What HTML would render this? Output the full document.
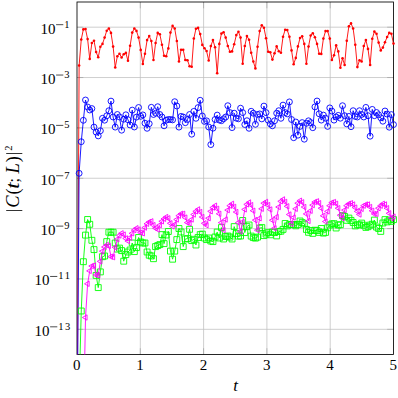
<!DOCTYPE html><html><head><meta charset="utf-8"><style>html,body{margin:0;padding:0;background:#fff}svg{display:block}text{font-family:"Liberation Serif",serif;fill:#000}</style></head><body>
<svg width="398" height="398" viewBox="0 0 398 398">
<rect width="398" height="398" fill="#fff"/>
<defs><clipPath id="c"><rect x="77.0" y="2.0" width="316.5" height="352.5"/></clipPath></defs>
<path d="M77.0 27.18H393.5M77.0 77.54H393.5M77.0 127.89H393.5M77.0 178.25H393.5M77.0 228.61H393.5M77.0 278.96H393.5M77.0 329.32H393.5M140.30 2.0V354.5M203.60 2.0V354.5M266.90 2.0V354.5M330.20 2.0V354.5" stroke="#bfbfbf" stroke-width="0.75" fill="none"/>
<path d="M77.0 27.18h6.3M393.5 27.18h-6.3M77.0 77.54h6.3M393.5 77.54h-6.3M77.0 127.89h6.3M393.5 127.89h-6.3M77.0 178.25h6.3M393.5 178.25h-6.3M77.0 228.61h6.3M393.5 228.61h-6.3M77.0 278.96h6.3M393.5 278.96h-6.3M77.0 329.32h6.3M393.5 329.32h-6.3M140.30 354.5v-6.3M140.30 2.0v6.3M203.60 354.5v-6.3M203.60 2.0v6.3M266.90 354.5v-6.3M266.90 2.0v6.3M330.20 354.5v-6.3M330.20 2.0v6.3" stroke="#808080" stroke-width="0.42" fill="none"/>
<rect x="77.0" y="2.0" width="316.5" height="352.5" fill="none" stroke="#000" stroke-width="0.85"/>
<g clip-path="url(#c)">
<polyline points="77.00,450.00 79.12,65.50 81.25,39.50 83.37,29.40 85.50,29.00 87.62,39.10 89.74,58.90 91.87,43.00 93.99,40.70 96.12,52.00 98.24,57.30 100.37,46.80 102.49,43.90 104.61,37.60 106.74,30.70 108.86,28.50 110.99,32.90 113.11,46.60 115.23,67.50 117.36,56.20 119.48,53.70 121.61,57.50 123.73,54.20 125.86,52.90 127.98,60.80 130.10,45.80 132.23,32.60 134.35,28.50 136.48,30.90 138.60,37.60 140.72,49.90 142.85,64.00 144.97,53.70 147.10,40.10 149.22,36.00 151.35,41.00 153.47,60.00 155.59,43.00 157.72,32.90 159.84,34.20 161.97,44.70 164.09,55.80 166.21,56.30 168.34,48.40 170.46,32.60 172.59,25.90 174.71,28.50 176.84,41.00 178.96,61.50 181.08,49.80 183.21,49.80 185.33,60.00 187.46,60.20 189.58,66.20 191.70,66.70 193.83,38.50 195.95,28.80 198.08,27.90 200.20,34.10 202.33,44.90 204.45,48.30 206.57,51.00 208.70,60.50 210.82,46.10 212.95,40.10 215.07,47.30 217.19,73.30 219.32,43.90 221.44,33.60 223.57,32.20 225.69,37.60 227.82,46.00 229.94,51.80 232.06,51.40 234.19,44.20 236.31,35.10 238.44,31.70 240.56,37.60 242.68,63.70 244.81,46.00 246.93,36.10 249.06,39.70 251.18,52.70 253.31,61.50 255.43,68.40 257.55,46.70 259.68,31.10 261.80,25.30 263.93,27.80 266.05,38.20 268.17,51.80 270.30,52.30 272.42,59.60 274.55,53.30 276.67,46.40 278.80,51.20 280.92,52.70 283.04,36.70 285.17,29.70 287.29,30.10 289.42,36.70 291.54,50.40 293.66,64.20 295.79,57.90 297.91,46.40 300.04,38.00 302.16,36.30 304.29,43.90 306.41,63.70 308.53,46.60 310.66,35.50 312.78,33.20 314.91,37.20 317.03,43.90 319.15,53.70 321.28,53.90 323.40,38.60 325.53,31.10 327.65,31.10 329.78,38.60 331.90,60.00 334.02,55.20 336.15,45.40 338.27,51.40 340.40,67.70 342.52,58.30 344.64,65.00 346.77,40.70 348.89,26.30 351.02,23.40 353.14,28.50 355.27,44.70 357.39,67.10 359.51,60.20 361.64,61.50 363.76,46.00 365.89,40.10 368.01,48.90 370.13,65.00 372.26,38.80 374.38,31.60 376.51,33.80 378.63,42.60 380.76,50.40 382.88,47.60 385.00,42.20 387.13,37.00 389.25,32.90 391.38,33.80 393.50,43.60" fill="none" stroke="#ff0000" stroke-width="0.9" stroke-linejoin="round"/>
</g><g fill="#ff0000"><circle cx="79.12" cy="65.50" r="1.3"/><circle cx="81.25" cy="39.50" r="1.3"/><circle cx="83.37" cy="29.40" r="1.3"/><circle cx="85.50" cy="29.00" r="1.3"/><circle cx="87.62" cy="39.10" r="1.3"/><circle cx="89.74" cy="58.90" r="1.3"/><circle cx="91.87" cy="43.00" r="1.3"/><circle cx="93.99" cy="40.70" r="1.3"/><circle cx="96.12" cy="52.00" r="1.3"/><circle cx="98.24" cy="57.30" r="1.3"/><circle cx="100.37" cy="46.80" r="1.3"/><circle cx="102.49" cy="43.90" r="1.3"/><circle cx="104.61" cy="37.60" r="1.3"/><circle cx="106.74" cy="30.70" r="1.3"/><circle cx="108.86" cy="28.50" r="1.3"/><circle cx="110.99" cy="32.90" r="1.3"/><circle cx="113.11" cy="46.60" r="1.3"/><circle cx="115.23" cy="67.50" r="1.3"/><circle cx="117.36" cy="56.20" r="1.3"/><circle cx="119.48" cy="53.70" r="1.3"/><circle cx="121.61" cy="57.50" r="1.3"/><circle cx="123.73" cy="54.20" r="1.3"/><circle cx="125.86" cy="52.90" r="1.3"/><circle cx="127.98" cy="60.80" r="1.3"/><circle cx="130.10" cy="45.80" r="1.3"/><circle cx="132.23" cy="32.60" r="1.3"/><circle cx="134.35" cy="28.50" r="1.3"/><circle cx="136.48" cy="30.90" r="1.3"/><circle cx="138.60" cy="37.60" r="1.3"/><circle cx="140.72" cy="49.90" r="1.3"/><circle cx="142.85" cy="64.00" r="1.3"/><circle cx="144.97" cy="53.70" r="1.3"/><circle cx="147.10" cy="40.10" r="1.3"/><circle cx="149.22" cy="36.00" r="1.3"/><circle cx="151.35" cy="41.00" r="1.3"/><circle cx="153.47" cy="60.00" r="1.3"/><circle cx="155.59" cy="43.00" r="1.3"/><circle cx="157.72" cy="32.90" r="1.3"/><circle cx="159.84" cy="34.20" r="1.3"/><circle cx="161.97" cy="44.70" r="1.3"/><circle cx="164.09" cy="55.80" r="1.3"/><circle cx="166.21" cy="56.30" r="1.3"/><circle cx="168.34" cy="48.40" r="1.3"/><circle cx="170.46" cy="32.60" r="1.3"/><circle cx="172.59" cy="25.90" r="1.3"/><circle cx="174.71" cy="28.50" r="1.3"/><circle cx="176.84" cy="41.00" r="1.3"/><circle cx="178.96" cy="61.50" r="1.3"/><circle cx="181.08" cy="49.80" r="1.3"/><circle cx="183.21" cy="49.80" r="1.3"/><circle cx="185.33" cy="60.00" r="1.3"/><circle cx="187.46" cy="60.20" r="1.3"/><circle cx="189.58" cy="66.20" r="1.3"/><circle cx="191.70" cy="66.70" r="1.3"/><circle cx="193.83" cy="38.50" r="1.3"/><circle cx="195.95" cy="28.80" r="1.3"/><circle cx="198.08" cy="27.90" r="1.3"/><circle cx="200.20" cy="34.10" r="1.3"/><circle cx="202.33" cy="44.90" r="1.3"/><circle cx="204.45" cy="48.30" r="1.3"/><circle cx="206.57" cy="51.00" r="1.3"/><circle cx="208.70" cy="60.50" r="1.3"/><circle cx="210.82" cy="46.10" r="1.3"/><circle cx="212.95" cy="40.10" r="1.3"/><circle cx="215.07" cy="47.30" r="1.3"/><circle cx="217.19" cy="73.30" r="1.3"/><circle cx="219.32" cy="43.90" r="1.3"/><circle cx="221.44" cy="33.60" r="1.3"/><circle cx="223.57" cy="32.20" r="1.3"/><circle cx="225.69" cy="37.60" r="1.3"/><circle cx="227.82" cy="46.00" r="1.3"/><circle cx="229.94" cy="51.80" r="1.3"/><circle cx="232.06" cy="51.40" r="1.3"/><circle cx="234.19" cy="44.20" r="1.3"/><circle cx="236.31" cy="35.10" r="1.3"/><circle cx="238.44" cy="31.70" r="1.3"/><circle cx="240.56" cy="37.60" r="1.3"/><circle cx="242.68" cy="63.70" r="1.3"/><circle cx="244.81" cy="46.00" r="1.3"/><circle cx="246.93" cy="36.10" r="1.3"/><circle cx="249.06" cy="39.70" r="1.3"/><circle cx="251.18" cy="52.70" r="1.3"/><circle cx="253.31" cy="61.50" r="1.3"/><circle cx="255.43" cy="68.40" r="1.3"/><circle cx="257.55" cy="46.70" r="1.3"/><circle cx="259.68" cy="31.10" r="1.3"/><circle cx="261.80" cy="25.30" r="1.3"/><circle cx="263.93" cy="27.80" r="1.3"/><circle cx="266.05" cy="38.20" r="1.3"/><circle cx="268.17" cy="51.80" r="1.3"/><circle cx="270.30" cy="52.30" r="1.3"/><circle cx="272.42" cy="59.60" r="1.3"/><circle cx="274.55" cy="53.30" r="1.3"/><circle cx="276.67" cy="46.40" r="1.3"/><circle cx="278.80" cy="51.20" r="1.3"/><circle cx="280.92" cy="52.70" r="1.3"/><circle cx="283.04" cy="36.70" r="1.3"/><circle cx="285.17" cy="29.70" r="1.3"/><circle cx="287.29" cy="30.10" r="1.3"/><circle cx="289.42" cy="36.70" r="1.3"/><circle cx="291.54" cy="50.40" r="1.3"/><circle cx="293.66" cy="64.20" r="1.3"/><circle cx="295.79" cy="57.90" r="1.3"/><circle cx="297.91" cy="46.40" r="1.3"/><circle cx="300.04" cy="38.00" r="1.3"/><circle cx="302.16" cy="36.30" r="1.3"/><circle cx="304.29" cy="43.90" r="1.3"/><circle cx="306.41" cy="63.70" r="1.3"/><circle cx="308.53" cy="46.60" r="1.3"/><circle cx="310.66" cy="35.50" r="1.3"/><circle cx="312.78" cy="33.20" r="1.3"/><circle cx="314.91" cy="37.20" r="1.3"/><circle cx="317.03" cy="43.90" r="1.3"/><circle cx="319.15" cy="53.70" r="1.3"/><circle cx="321.28" cy="53.90" r="1.3"/><circle cx="323.40" cy="38.60" r="1.3"/><circle cx="325.53" cy="31.10" r="1.3"/><circle cx="327.65" cy="31.10" r="1.3"/><circle cx="329.78" cy="38.60" r="1.3"/><circle cx="331.90" cy="60.00" r="1.3"/><circle cx="334.02" cy="55.20" r="1.3"/><circle cx="336.15" cy="45.40" r="1.3"/><circle cx="338.27" cy="51.40" r="1.3"/><circle cx="340.40" cy="67.70" r="1.3"/><circle cx="342.52" cy="58.30" r="1.3"/><circle cx="344.64" cy="65.00" r="1.3"/><circle cx="346.77" cy="40.70" r="1.3"/><circle cx="348.89" cy="26.30" r="1.3"/><circle cx="351.02" cy="23.40" r="1.3"/><circle cx="353.14" cy="28.50" r="1.3"/><circle cx="355.27" cy="44.70" r="1.3"/><circle cx="357.39" cy="67.10" r="1.3"/><circle cx="359.51" cy="60.20" r="1.3"/><circle cx="361.64" cy="61.50" r="1.3"/><circle cx="363.76" cy="46.00" r="1.3"/><circle cx="365.89" cy="40.10" r="1.3"/><circle cx="368.01" cy="48.90" r="1.3"/><circle cx="370.13" cy="65.00" r="1.3"/><circle cx="372.26" cy="38.80" r="1.3"/><circle cx="374.38" cy="31.60" r="1.3"/><circle cx="376.51" cy="33.80" r="1.3"/><circle cx="378.63" cy="42.60" r="1.3"/><circle cx="380.76" cy="50.40" r="1.3"/><circle cx="382.88" cy="47.60" r="1.3"/><circle cx="385.00" cy="42.20" r="1.3"/><circle cx="387.13" cy="37.00" r="1.3"/><circle cx="389.25" cy="32.90" r="1.3"/><circle cx="391.38" cy="33.80" r="1.3"/><circle cx="393.50" cy="43.60" r="1.3"/></g><g clip-path="url(#c)">
<polyline points="77.00,450.00 79.12,173.30 81.25,141.70 83.37,120.30 85.50,100.00 87.62,107.00 89.74,110.00 91.87,108.60 93.99,127.10 96.12,132.10 98.24,135.90 100.37,130.80 102.49,118.30 104.61,120.20 106.74,115.80 108.86,110.70 110.99,101.10 113.11,117.00 115.23,127.10 117.36,114.50 119.48,117.00 121.61,130.20 123.73,119.20 125.86,114.80 127.98,119.70 130.10,125.00 132.23,110.10 134.35,127.00 136.48,117.10 138.60,107.50 140.72,116.30 142.85,114.90 144.97,123.20 147.10,128.30 149.22,123.70 151.35,107.30 153.47,114.50 155.59,113.20 157.72,106.70 159.84,114.50 161.97,117.00 164.09,125.80 166.21,120.20 168.34,119.50 170.46,119.50 172.59,119.90 174.71,101.70 176.84,106.00 178.96,127.10 181.08,116.40 183.21,117.00 185.33,122.70 187.46,119.50 189.58,114.50 191.70,134.20 193.83,111.40 195.95,118.30 198.08,107.60 200.20,100.30 202.33,116.00 204.45,121.40 206.57,120.80 208.70,127.00 210.82,144.60 212.95,128.20 215.07,119.50 217.19,115.10 219.32,120.10 221.44,120.70 223.57,118.80 225.69,117.00 227.82,105.70 229.94,112.60 232.06,127.60 234.19,113.20 236.31,118.20 238.44,118.80 240.56,108.20 242.68,112.60 244.81,124.50 246.93,120.70 249.06,128.30 251.18,111.30 253.31,113.20 255.43,124.30 257.55,114.50 259.68,113.90 261.80,118.90 263.93,106.10 266.05,112.60 268.17,120.20 270.30,123.90 272.42,125.80 274.55,120.80 276.67,113.20 278.80,110.70 280.92,118.30 283.04,105.10 285.17,112.60 287.29,113.90 289.42,101.90 291.54,119.50 293.66,137.70 295.79,122.00 297.91,135.20 300.04,126.40 302.16,122.60 304.29,139.20 306.41,123.30 308.53,120.80 310.66,122.60 312.78,127.70 314.91,106.90 317.03,101.00 319.15,113.80 321.28,120.10 323.40,115.10 325.53,118.20 327.65,126.40 329.78,107.90 331.90,111.10 334.02,120.10 336.15,117.00 338.27,115.40 340.40,118.20 342.52,105.70 344.64,115.70 346.77,123.90 348.89,116.40 351.02,126.70 353.14,110.70 355.27,116.40 357.39,117.00 359.51,110.70 361.64,114.50 363.76,117.00 365.89,107.40 368.01,115.70 370.13,136.20 372.26,109.40 374.38,115.70 376.51,112.50 378.63,114.80 380.76,117.80 382.88,121.20 385.00,111.00 387.13,114.10 389.25,127.20 391.38,114.60 393.50,124.60" fill="none" stroke="#0000ff" stroke-width="0.9" stroke-linejoin="round"/>
</g><g fill="none" stroke="#0000ff" stroke-width="0.9"><circle cx="79.12" cy="173.30" r="2.95"/><circle cx="81.25" cy="141.70" r="2.95"/><circle cx="83.37" cy="120.30" r="2.95"/><circle cx="85.50" cy="100.00" r="2.95"/><circle cx="87.62" cy="107.00" r="2.95"/><circle cx="89.74" cy="110.00" r="2.95"/><circle cx="91.87" cy="108.60" r="2.95"/><circle cx="93.99" cy="127.10" r="2.95"/><circle cx="96.12" cy="132.10" r="2.95"/><circle cx="98.24" cy="135.90" r="2.95"/><circle cx="100.37" cy="130.80" r="2.95"/><circle cx="102.49" cy="118.30" r="2.95"/><circle cx="104.61" cy="120.20" r="2.95"/><circle cx="106.74" cy="115.80" r="2.95"/><circle cx="108.86" cy="110.70" r="2.95"/><circle cx="110.99" cy="101.10" r="2.95"/><circle cx="113.11" cy="117.00" r="2.95"/><circle cx="115.23" cy="127.10" r="2.95"/><circle cx="117.36" cy="114.50" r="2.95"/><circle cx="119.48" cy="117.00" r="2.95"/><circle cx="121.61" cy="130.20" r="2.95"/><circle cx="123.73" cy="119.20" r="2.95"/><circle cx="125.86" cy="114.80" r="2.95"/><circle cx="127.98" cy="119.70" r="2.95"/><circle cx="130.10" cy="125.00" r="2.95"/><circle cx="132.23" cy="110.10" r="2.95"/><circle cx="134.35" cy="127.00" r="2.95"/><circle cx="136.48" cy="117.10" r="2.95"/><circle cx="138.60" cy="107.50" r="2.95"/><circle cx="140.72" cy="116.30" r="2.95"/><circle cx="142.85" cy="114.90" r="2.95"/><circle cx="144.97" cy="123.20" r="2.95"/><circle cx="147.10" cy="128.30" r="2.95"/><circle cx="149.22" cy="123.70" r="2.95"/><circle cx="151.35" cy="107.30" r="2.95"/><circle cx="153.47" cy="114.50" r="2.95"/><circle cx="155.59" cy="113.20" r="2.95"/><circle cx="157.72" cy="106.70" r="2.95"/><circle cx="159.84" cy="114.50" r="2.95"/><circle cx="161.97" cy="117.00" r="2.95"/><circle cx="164.09" cy="125.80" r="2.95"/><circle cx="166.21" cy="120.20" r="2.95"/><circle cx="168.34" cy="119.50" r="2.95"/><circle cx="170.46" cy="119.50" r="2.95"/><circle cx="172.59" cy="119.90" r="2.95"/><circle cx="174.71" cy="101.70" r="2.95"/><circle cx="176.84" cy="106.00" r="2.95"/><circle cx="178.96" cy="127.10" r="2.95"/><circle cx="181.08" cy="116.40" r="2.95"/><circle cx="183.21" cy="117.00" r="2.95"/><circle cx="185.33" cy="122.70" r="2.95"/><circle cx="187.46" cy="119.50" r="2.95"/><circle cx="189.58" cy="114.50" r="2.95"/><circle cx="191.70" cy="134.20" r="2.95"/><circle cx="193.83" cy="111.40" r="2.95"/><circle cx="195.95" cy="118.30" r="2.95"/><circle cx="198.08" cy="107.60" r="2.95"/><circle cx="200.20" cy="100.30" r="2.95"/><circle cx="202.33" cy="116.00" r="2.95"/><circle cx="204.45" cy="121.40" r="2.95"/><circle cx="206.57" cy="120.80" r="2.95"/><circle cx="208.70" cy="127.00" r="2.95"/><circle cx="210.82" cy="144.60" r="2.95"/><circle cx="212.95" cy="128.20" r="2.95"/><circle cx="215.07" cy="119.50" r="2.95"/><circle cx="217.19" cy="115.10" r="2.95"/><circle cx="219.32" cy="120.10" r="2.95"/><circle cx="221.44" cy="120.70" r="2.95"/><circle cx="223.57" cy="118.80" r="2.95"/><circle cx="225.69" cy="117.00" r="2.95"/><circle cx="227.82" cy="105.70" r="2.95"/><circle cx="229.94" cy="112.60" r="2.95"/><circle cx="232.06" cy="127.60" r="2.95"/><circle cx="234.19" cy="113.20" r="2.95"/><circle cx="236.31" cy="118.20" r="2.95"/><circle cx="238.44" cy="118.80" r="2.95"/><circle cx="240.56" cy="108.20" r="2.95"/><circle cx="242.68" cy="112.60" r="2.95"/><circle cx="244.81" cy="124.50" r="2.95"/><circle cx="246.93" cy="120.70" r="2.95"/><circle cx="249.06" cy="128.30" r="2.95"/><circle cx="251.18" cy="111.30" r="2.95"/><circle cx="253.31" cy="113.20" r="2.95"/><circle cx="255.43" cy="124.30" r="2.95"/><circle cx="257.55" cy="114.50" r="2.95"/><circle cx="259.68" cy="113.90" r="2.95"/><circle cx="261.80" cy="118.90" r="2.95"/><circle cx="263.93" cy="106.10" r="2.95"/><circle cx="266.05" cy="112.60" r="2.95"/><circle cx="268.17" cy="120.20" r="2.95"/><circle cx="270.30" cy="123.90" r="2.95"/><circle cx="272.42" cy="125.80" r="2.95"/><circle cx="274.55" cy="120.80" r="2.95"/><circle cx="276.67" cy="113.20" r="2.95"/><circle cx="278.80" cy="110.70" r="2.95"/><circle cx="280.92" cy="118.30" r="2.95"/><circle cx="283.04" cy="105.10" r="2.95"/><circle cx="285.17" cy="112.60" r="2.95"/><circle cx="287.29" cy="113.90" r="2.95"/><circle cx="289.42" cy="101.90" r="2.95"/><circle cx="291.54" cy="119.50" r="2.95"/><circle cx="293.66" cy="137.70" r="2.95"/><circle cx="295.79" cy="122.00" r="2.95"/><circle cx="297.91" cy="135.20" r="2.95"/><circle cx="300.04" cy="126.40" r="2.95"/><circle cx="302.16" cy="122.60" r="2.95"/><circle cx="304.29" cy="139.20" r="2.95"/><circle cx="306.41" cy="123.30" r="2.95"/><circle cx="308.53" cy="120.80" r="2.95"/><circle cx="310.66" cy="122.60" r="2.95"/><circle cx="312.78" cy="127.70" r="2.95"/><circle cx="314.91" cy="106.90" r="2.95"/><circle cx="317.03" cy="101.00" r="2.95"/><circle cx="319.15" cy="113.80" r="2.95"/><circle cx="321.28" cy="120.10" r="2.95"/><circle cx="323.40" cy="115.10" r="2.95"/><circle cx="325.53" cy="118.20" r="2.95"/><circle cx="327.65" cy="126.40" r="2.95"/><circle cx="329.78" cy="107.90" r="2.95"/><circle cx="331.90" cy="111.10" r="2.95"/><circle cx="334.02" cy="120.10" r="2.95"/><circle cx="336.15" cy="117.00" r="2.95"/><circle cx="338.27" cy="115.40" r="2.95"/><circle cx="340.40" cy="118.20" r="2.95"/><circle cx="342.52" cy="105.70" r="2.95"/><circle cx="344.64" cy="115.70" r="2.95"/><circle cx="346.77" cy="123.90" r="2.95"/><circle cx="348.89" cy="116.40" r="2.95"/><circle cx="351.02" cy="126.70" r="2.95"/><circle cx="353.14" cy="110.70" r="2.95"/><circle cx="355.27" cy="116.40" r="2.95"/><circle cx="357.39" cy="117.00" r="2.95"/><circle cx="359.51" cy="110.70" r="2.95"/><circle cx="361.64" cy="114.50" r="2.95"/><circle cx="363.76" cy="117.00" r="2.95"/><circle cx="365.89" cy="107.40" r="2.95"/><circle cx="368.01" cy="115.70" r="2.95"/><circle cx="370.13" cy="136.20" r="2.95"/><circle cx="372.26" cy="109.40" r="2.95"/><circle cx="374.38" cy="115.70" r="2.95"/><circle cx="376.51" cy="112.50" r="2.95"/><circle cx="378.63" cy="114.80" r="2.95"/><circle cx="380.76" cy="117.80" r="2.95"/><circle cx="382.88" cy="121.20" r="2.95"/><circle cx="385.00" cy="111.00" r="2.95"/><circle cx="387.13" cy="114.10" r="2.95"/><circle cx="389.25" cy="127.20" r="2.95"/><circle cx="391.38" cy="114.60" r="2.95"/><circle cx="393.50" cy="124.60" r="2.95"/></g><g clip-path="url(#c)">
<polyline points="77.00,600.00 79.12,391.00 81.25,311.00 83.37,261.70 85.50,235.10 87.62,219.50 89.74,224.30 91.87,240.30 93.99,249.60 96.12,275.40 98.24,287.60 100.37,271.90 102.49,256.70 104.61,256.00 106.74,241.60 108.86,232.20 110.99,232.20 113.11,232.20 115.23,243.00 117.36,249.10 119.48,248.10 121.61,250.60 123.73,261.20 125.86,254.60 127.98,252.00 130.10,250.00 132.23,243.00 134.35,251.60 136.48,247.60 138.60,237.50 140.72,242.00 142.85,243.00 144.97,243.00 147.10,252.00 149.22,255.20 151.35,256.00 153.47,258.70 155.59,246.60 157.72,245.60 159.84,244.60 161.97,234.60 164.09,243.60 166.21,235.00 168.34,231.50 170.46,251.10 172.59,259.20 174.71,251.10 176.84,239.60 178.96,228.50 181.08,232.00 183.21,246.60 185.33,239.00 187.46,238.60 189.58,229.30 191.70,240.60 193.83,239.30 195.95,245.00 198.08,237.50 200.20,234.60 202.33,234.10 204.45,238.00 206.57,239.60 208.70,238.00 210.82,241.00 212.95,241.60 215.07,237.00 217.19,232.10 219.32,238.00 221.44,227.60 223.57,239.00 225.69,236.60 227.82,236.00 229.94,237.10 232.06,239.00 234.19,226.60 236.31,233.60 238.44,236.10 240.56,236.00 242.68,220.50 244.81,232.60 246.93,226.60 249.06,225.00 251.18,236.10 253.31,237.60 255.43,238.10 257.55,237.10 259.68,228.10 261.80,227.60 263.93,235.60 266.05,234.10 268.17,232.60 270.30,234.80 272.42,232.00 274.55,232.50 276.67,235.90 278.80,231.50 280.92,231.20 283.04,229.40 285.17,223.50 287.29,225.90 289.42,224.60 291.54,224.50 293.66,224.50 295.79,225.80 297.91,224.50 300.04,221.00 302.16,222.60 304.29,224.00 306.41,229.40 308.53,232.30 310.66,230.50 312.78,233.40 314.91,230.20 317.03,230.60 319.15,232.40 321.28,228.50 323.40,233.10 325.53,232.40 327.65,227.80 329.78,225.00 331.90,223.90 334.02,223.70 336.15,228.00 338.27,225.10 340.40,224.70 342.52,215.60 344.64,216.50 346.77,220.30 348.89,218.10 351.02,220.40 353.14,222.50 355.27,225.90 357.39,224.70 359.51,224.90 361.64,223.10 363.76,225.20 365.89,227.40 368.01,226.70 370.13,225.10 372.26,224.20 374.38,220.10 376.51,227.10 378.63,228.50 380.76,231.40 382.88,223.00 385.00,219.60 387.13,221.90 389.25,220.00 391.38,221.40 393.50,219.60" fill="none" stroke="#00ff00" stroke-width="0.9" stroke-linejoin="round"/>
</g><path d="M78.30 308.05h5.9v5.9h-5.9zM80.42 258.75h5.9v5.9h-5.9zM82.55 232.15h5.9v5.9h-5.9zM84.67 216.55h5.9v5.9h-5.9zM86.79 221.35h5.9v5.9h-5.9zM88.92 237.35h5.9v5.9h-5.9zM91.04 246.65h5.9v5.9h-5.9zM93.17 272.45h5.9v5.9h-5.9zM95.29 284.65h5.9v5.9h-5.9zM97.42 268.95h5.9v5.9h-5.9zM99.54 253.75h5.9v5.9h-5.9zM101.66 253.05h5.9v5.9h-5.9zM103.79 238.65h5.9v5.9h-5.9zM105.91 229.25h5.9v5.9h-5.9zM108.04 229.25h5.9v5.9h-5.9zM110.16 229.25h5.9v5.9h-5.9zM112.28 240.05h5.9v5.9h-5.9zM114.41 246.15h5.9v5.9h-5.9zM116.53 245.15h5.9v5.9h-5.9zM118.66 247.65h5.9v5.9h-5.9zM120.78 258.25h5.9v5.9h-5.9zM122.91 251.65h5.9v5.9h-5.9zM125.03 249.05h5.9v5.9h-5.9zM127.15 247.05h5.9v5.9h-5.9zM129.28 240.05h5.9v5.9h-5.9zM131.40 248.65h5.9v5.9h-5.9zM133.53 244.65h5.9v5.9h-5.9zM135.65 234.55h5.9v5.9h-5.9zM137.77 239.05h5.9v5.9h-5.9zM139.90 240.05h5.9v5.9h-5.9zM142.02 240.05h5.9v5.9h-5.9zM144.15 249.05h5.9v5.9h-5.9zM146.27 252.25h5.9v5.9h-5.9zM148.40 253.05h5.9v5.9h-5.9zM150.52 255.75h5.9v5.9h-5.9zM152.64 243.65h5.9v5.9h-5.9zM154.77 242.65h5.9v5.9h-5.9zM156.89 241.65h5.9v5.9h-5.9zM159.02 231.65h5.9v5.9h-5.9zM161.14 240.65h5.9v5.9h-5.9zM163.26 232.05h5.9v5.9h-5.9zM165.39 228.55h5.9v5.9h-5.9zM167.51 248.15h5.9v5.9h-5.9zM169.64 256.25h5.9v5.9h-5.9zM171.76 248.15h5.9v5.9h-5.9zM173.89 236.65h5.9v5.9h-5.9zM176.01 225.55h5.9v5.9h-5.9zM178.13 229.05h5.9v5.9h-5.9zM180.26 243.65h5.9v5.9h-5.9zM182.38 236.05h5.9v5.9h-5.9zM184.51 235.65h5.9v5.9h-5.9zM186.63 226.35h5.9v5.9h-5.9zM188.75 237.65h5.9v5.9h-5.9zM190.88 236.35h5.9v5.9h-5.9zM193.00 242.05h5.9v5.9h-5.9zM195.13 234.55h5.9v5.9h-5.9zM197.25 231.65h5.9v5.9h-5.9zM199.38 231.15h5.9v5.9h-5.9zM201.50 235.05h5.9v5.9h-5.9zM203.62 236.65h5.9v5.9h-5.9zM205.75 235.05h5.9v5.9h-5.9zM207.87 238.05h5.9v5.9h-5.9zM210.00 238.65h5.9v5.9h-5.9zM212.12 234.05h5.9v5.9h-5.9zM214.24 229.15h5.9v5.9h-5.9zM216.37 235.05h5.9v5.9h-5.9zM218.49 224.65h5.9v5.9h-5.9zM220.62 236.05h5.9v5.9h-5.9zM222.74 233.65h5.9v5.9h-5.9zM224.87 233.05h5.9v5.9h-5.9zM226.99 234.15h5.9v5.9h-5.9zM229.11 236.05h5.9v5.9h-5.9zM231.24 223.65h5.9v5.9h-5.9zM233.36 230.65h5.9v5.9h-5.9zM235.49 233.15h5.9v5.9h-5.9zM237.61 233.05h5.9v5.9h-5.9zM239.73 217.55h5.9v5.9h-5.9zM241.86 229.65h5.9v5.9h-5.9zM243.98 223.65h5.9v5.9h-5.9zM246.11 222.05h5.9v5.9h-5.9zM248.23 233.15h5.9v5.9h-5.9zM250.36 234.65h5.9v5.9h-5.9zM252.48 235.15h5.9v5.9h-5.9zM254.60 234.15h5.9v5.9h-5.9zM256.73 225.15h5.9v5.9h-5.9zM258.85 224.65h5.9v5.9h-5.9zM260.98 232.65h5.9v5.9h-5.9zM263.10 231.15h5.9v5.9h-5.9zM265.22 229.65h5.9v5.9h-5.9zM267.35 231.85h5.9v5.9h-5.9zM269.47 229.05h5.9v5.9h-5.9zM271.60 229.55h5.9v5.9h-5.9zM273.72 232.95h5.9v5.9h-5.9zM275.85 228.55h5.9v5.9h-5.9zM277.97 228.25h5.9v5.9h-5.9zM280.09 226.45h5.9v5.9h-5.9zM282.22 220.55h5.9v5.9h-5.9zM284.34 222.95h5.9v5.9h-5.9zM286.47 221.65h5.9v5.9h-5.9zM288.59 221.55h5.9v5.9h-5.9zM290.71 221.55h5.9v5.9h-5.9zM292.84 222.85h5.9v5.9h-5.9zM294.96 221.55h5.9v5.9h-5.9zM297.09 218.05h5.9v5.9h-5.9zM299.21 219.65h5.9v5.9h-5.9zM301.34 221.05h5.9v5.9h-5.9zM303.46 226.45h5.9v5.9h-5.9zM305.58 229.35h5.9v5.9h-5.9zM307.71 227.55h5.9v5.9h-5.9zM309.83 230.45h5.9v5.9h-5.9zM311.96 227.25h5.9v5.9h-5.9zM314.08 227.65h5.9v5.9h-5.9zM316.20 229.45h5.9v5.9h-5.9zM318.33 225.55h5.9v5.9h-5.9zM320.45 230.15h5.9v5.9h-5.9zM322.58 229.45h5.9v5.9h-5.9zM324.70 224.85h5.9v5.9h-5.9zM326.83 222.05h5.9v5.9h-5.9zM328.95 220.95h5.9v5.9h-5.9zM331.07 220.75h5.9v5.9h-5.9zM333.20 225.05h5.9v5.9h-5.9zM335.32 222.15h5.9v5.9h-5.9zM337.45 221.75h5.9v5.9h-5.9zM339.57 212.65h5.9v5.9h-5.9zM341.69 213.55h5.9v5.9h-5.9zM343.82 217.35h5.9v5.9h-5.9zM345.94 215.15h5.9v5.9h-5.9zM348.07 217.45h5.9v5.9h-5.9zM350.19 219.55h5.9v5.9h-5.9zM352.32 222.95h5.9v5.9h-5.9zM354.44 221.75h5.9v5.9h-5.9zM356.56 221.95h5.9v5.9h-5.9zM358.69 220.15h5.9v5.9h-5.9zM360.81 222.25h5.9v5.9h-5.9zM362.94 224.45h5.9v5.9h-5.9zM365.06 223.75h5.9v5.9h-5.9zM367.18 222.15h5.9v5.9h-5.9zM369.31 221.25h5.9v5.9h-5.9zM371.43 217.15h5.9v5.9h-5.9zM373.56 224.15h5.9v5.9h-5.9zM375.68 225.55h5.9v5.9h-5.9zM377.81 228.45h5.9v5.9h-5.9zM379.93 220.05h5.9v5.9h-5.9zM382.05 216.65h5.9v5.9h-5.9zM384.18 218.95h5.9v5.9h-5.9zM386.30 217.05h5.9v5.9h-5.9zM388.43 218.45h5.9v5.9h-5.9zM390.55 216.65h5.9v5.9h-5.9z" fill="none" stroke="#00ff00" stroke-width="0.9"/><g clip-path="url(#c)">
<polyline points="81.25,900.00 83.37,429.00 85.50,317.50 87.62,283.80 89.74,270.90 91.87,266.00 93.99,265.50 96.12,275.00 98.24,275.50 100.37,261.40 102.49,251.20 104.61,247.00 106.74,245.00 108.86,246.00 110.99,256.70 113.11,257.20 115.23,247.30 117.36,239.30 119.48,235.50 121.61,233.30 123.73,234.60 125.86,238.40 127.98,241.00 130.10,237.70 132.23,233.30 134.35,230.10 136.48,228.20 138.60,229.50 140.72,232.60 142.85,233.30 144.97,227.60 147.10,223.80 149.22,222.00 151.35,221.30 153.47,225.10 155.59,228.20 157.72,229.50 159.84,225.10 161.97,221.30 164.09,218.80 166.21,217.00 168.34,218.30 170.46,223.30 172.59,226.40 174.71,224.50 176.84,219.50 178.96,215.70 181.08,213.80 183.21,213.80 185.33,217.60 187.46,222.60 189.58,223.30 191.70,219.50 193.83,214.50 195.95,211.30 198.08,209.40 200.20,212.00 202.33,217.00 204.45,223.30 206.57,225.20 208.70,218.20 210.82,211.30 212.95,207.60 215.07,205.70 217.19,208.80 219.32,213.80 221.44,222.60 223.57,230.10 225.69,219.50 227.82,210.10 229.94,205.70 232.06,203.80 234.19,206.90 236.31,212.00 238.44,222.60 240.56,231.40 242.68,222.00 244.81,209.40 246.93,204.40 249.06,202.50 251.18,205.10 253.31,210.70 255.43,220.10 257.55,230.20 259.68,218.30 261.80,208.80 263.93,203.20 266.05,201.90 268.17,205.10 270.30,209.50 272.42,220.20 274.55,228.30 276.67,217.00 278.80,207.00 280.92,201.30 283.04,199.40 285.17,201.90 287.29,206.30 289.42,214.50 291.54,223.90 293.66,217.60 295.79,208.80 297.91,203.20 300.04,200.70 302.16,202.30 304.29,207.00 306.41,213.90 308.53,221.00 310.66,210.80 312.78,205.10 314.91,202.00 317.03,201.30 319.15,203.20 321.28,208.20 323.40,215.80 325.53,221.50 327.65,211.40 329.78,205.70 331.90,202.60 334.02,202.00 336.15,203.80 338.27,208.20 340.40,215.20 342.52,218.30 344.64,210.10 346.77,205.70 348.89,203.80 351.02,203.20 353.14,204.50 355.27,207.60 357.39,211.40 359.51,214.50 361.64,208.90 363.76,205.70 365.89,204.50 368.01,204.50 370.13,207.00 372.26,210.80 374.38,213.90 376.51,213.90 378.63,208.20 380.76,205.70 382.88,203.80 385.00,204.50 387.13,208.20 389.25,213.30 391.38,218.10 393.50,216.60" fill="none" stroke="#ff00ff" stroke-width="0.9" stroke-linejoin="round"/>
</g><path d="M82.40 317.50L87.05 314.82L87.05 320.18zM84.52 283.80L89.17 281.12L89.17 286.48zM86.64 270.90L91.29 268.22L91.29 273.58zM88.77 266.00L93.42 263.32L93.42 268.68zM90.89 265.50L95.54 262.82L95.54 268.18zM93.02 275.00L97.67 272.32L97.67 277.68zM95.14 275.50L99.79 272.82L99.79 278.18zM97.27 261.40L101.92 258.72L101.92 264.08zM99.39 251.20L104.04 248.52L104.04 253.88zM101.51 247.00L106.16 244.32L106.16 249.68zM103.64 245.00L108.29 242.32L108.29 247.68zM105.76 246.00L110.41 243.32L110.41 248.68zM107.89 256.70L112.54 254.02L112.54 259.38zM110.01 257.20L114.66 254.52L114.66 259.88zM112.13 247.30L116.78 244.62L116.78 249.98zM114.26 239.30L118.91 236.62L118.91 241.98zM116.38 235.50L121.03 232.82L121.03 238.18zM118.51 233.30L123.16 230.62L123.16 235.98zM120.63 234.60L125.28 231.92L125.28 237.28zM122.76 238.40L127.41 235.72L127.41 241.08zM124.88 241.00L129.53 238.32L129.53 243.68zM127.00 237.70L131.65 235.02L131.65 240.38zM129.13 233.30L133.78 230.62L133.78 235.98zM131.25 230.10L135.90 227.42L135.90 232.78zM133.38 228.20L138.03 225.52L138.03 230.88zM135.50 229.50L140.15 226.82L140.15 232.18zM137.62 232.60L142.27 229.92L142.27 235.28zM139.75 233.30L144.40 230.62L144.40 235.98zM141.87 227.60L146.52 224.92L146.52 230.28zM144.00 223.80L148.65 221.12L148.65 226.48zM146.12 222.00L150.77 219.32L150.77 224.68zM148.25 221.30L152.90 218.62L152.90 223.98zM150.37 225.10L155.02 222.42L155.02 227.78zM152.49 228.20L157.14 225.52L157.14 230.88zM154.62 229.50L159.27 226.82L159.27 232.18zM156.74 225.10L161.39 222.42L161.39 227.78zM158.87 221.30L163.52 218.62L163.52 223.98zM160.99 218.80L165.64 216.12L165.64 221.48zM163.11 217.00L167.76 214.32L167.76 219.68zM165.24 218.30L169.89 215.62L169.89 220.98zM167.36 223.30L172.01 220.62L172.01 225.98zM169.49 226.40L174.14 223.72L174.14 229.08zM171.61 224.50L176.26 221.82L176.26 227.18zM173.74 219.50L178.39 216.82L178.39 222.18zM175.86 215.70L180.51 213.02L180.51 218.38zM177.98 213.80L182.63 211.12L182.63 216.48zM180.11 213.80L184.76 211.12L184.76 216.48zM182.23 217.60L186.88 214.92L186.88 220.28zM184.36 222.60L189.01 219.92L189.01 225.28zM186.48 223.30L191.13 220.62L191.13 225.98zM188.60 219.50L193.25 216.82L193.25 222.18zM190.73 214.50L195.38 211.82L195.38 217.18zM192.85 211.30L197.50 208.62L197.50 213.98zM194.98 209.40L199.63 206.72L199.63 212.08zM197.10 212.00L201.75 209.32L201.75 214.68zM199.23 217.00L203.88 214.32L203.88 219.68zM201.35 223.30L206.00 220.62L206.00 225.98zM203.47 225.20L208.12 222.52L208.12 227.88zM205.60 218.20L210.25 215.52L210.25 220.88zM207.72 211.30L212.37 208.62L212.37 213.98zM209.85 207.60L214.50 204.92L214.50 210.28zM211.97 205.70L216.62 203.02L216.62 208.38zM214.09 208.80L218.74 206.12L218.74 211.48zM216.22 213.80L220.87 211.12L220.87 216.48zM218.34 222.60L222.99 219.92L222.99 225.28zM220.47 230.10L225.12 227.42L225.12 232.78zM222.59 219.50L227.24 216.82L227.24 222.18zM224.72 210.10L229.37 207.42L229.37 212.78zM226.84 205.70L231.49 203.02L231.49 208.38zM228.96 203.80L233.61 201.12L233.61 206.48zM231.09 206.90L235.74 204.22L235.74 209.58zM233.21 212.00L237.86 209.32L237.86 214.68zM235.34 222.60L239.99 219.92L239.99 225.28zM237.46 231.40L242.11 228.72L242.11 234.08zM239.58 222.00L244.23 219.32L244.23 224.68zM241.71 209.40L246.36 206.72L246.36 212.08zM243.83 204.40L248.48 201.72L248.48 207.08zM245.96 202.50L250.61 199.82L250.61 205.18zM248.08 205.10L252.73 202.42L252.73 207.78zM250.21 210.70L254.86 208.02L254.86 213.38zM252.33 220.10L256.98 217.42L256.98 222.78zM254.45 230.20L259.10 227.52L259.10 232.88zM256.58 218.30L261.23 215.62L261.23 220.98zM258.70 208.80L263.35 206.12L263.35 211.48zM260.83 203.20L265.48 200.52L265.48 205.88zM262.95 201.90L267.60 199.22L267.60 204.58zM265.07 205.10L269.72 202.42L269.72 207.78zM267.20 209.50L271.85 206.82L271.85 212.18zM269.32 220.20L273.97 217.52L273.97 222.88zM271.45 228.30L276.10 225.62L276.10 230.98zM273.57 217.00L278.22 214.32L278.22 219.68zM275.70 207.00L280.35 204.32L280.35 209.68zM277.82 201.30L282.47 198.62L282.47 203.98zM279.94 199.40L284.59 196.72L284.59 202.08zM282.07 201.90L286.72 199.22L286.72 204.58zM284.19 206.30L288.84 203.62L288.84 208.98zM286.32 214.50L290.97 211.82L290.97 217.18zM288.44 223.90L293.09 221.22L293.09 226.58zM290.56 217.60L295.21 214.92L295.21 220.28zM292.69 208.80L297.34 206.12L297.34 211.48zM294.81 203.20L299.46 200.52L299.46 205.88zM296.94 200.70L301.59 198.02L301.59 203.38zM299.06 202.30L303.71 199.62L303.71 204.98zM301.19 207.00L305.84 204.32L305.84 209.68zM303.31 213.90L307.96 211.22L307.96 216.58zM305.43 221.00L310.08 218.32L310.08 223.68zM307.56 210.80L312.21 208.12L312.21 213.48zM309.68 205.10L314.33 202.42L314.33 207.78zM311.81 202.00L316.46 199.32L316.46 204.68zM313.93 201.30L318.58 198.62L318.58 203.98zM316.05 203.20L320.70 200.52L320.70 205.88zM318.18 208.20L322.83 205.52L322.83 210.88zM320.30 215.80L324.95 213.12L324.95 218.48zM322.43 221.50L327.08 218.82L327.08 224.18zM324.55 211.40L329.20 208.72L329.20 214.08zM326.68 205.70L331.33 203.02L331.33 208.38zM328.80 202.60L333.45 199.92L333.45 205.28zM330.92 202.00L335.57 199.32L335.57 204.68zM333.05 203.80L337.70 201.12L337.70 206.48zM335.17 208.20L339.82 205.52L339.82 210.88zM337.30 215.20L341.95 212.52L341.95 217.88zM339.42 218.30L344.07 215.62L344.07 220.98zM341.54 210.10L346.19 207.42L346.19 212.78zM343.67 205.70L348.32 203.02L348.32 208.38zM345.79 203.80L350.44 201.12L350.44 206.48zM347.92 203.20L352.57 200.52L352.57 205.88zM350.04 204.50L354.69 201.82L354.69 207.18zM352.17 207.60L356.82 204.92L356.82 210.28zM354.29 211.40L358.94 208.72L358.94 214.08zM356.41 214.50L361.06 211.82L361.06 217.18zM358.54 208.90L363.19 206.22L363.19 211.58zM360.66 205.70L365.31 203.02L365.31 208.38zM362.79 204.50L367.44 201.82L367.44 207.18zM364.91 204.50L369.56 201.82L369.56 207.18zM367.03 207.00L371.68 204.32L371.68 209.68zM369.16 210.80L373.81 208.12L373.81 213.48zM371.28 213.90L375.93 211.22L375.93 216.58zM373.41 213.90L378.06 211.22L378.06 216.58zM375.53 208.20L380.18 205.52L380.18 210.88zM377.66 205.70L382.31 203.02L382.31 208.38zM379.78 203.80L384.43 201.12L384.43 206.48zM381.90 204.50L386.55 201.82L386.55 207.18zM384.03 208.20L388.68 205.52L388.68 210.88zM386.15 213.30L390.80 210.62L390.80 215.98zM388.28 218.10L392.93 215.42L392.93 220.78zM390.40 216.60L395.05 213.92L395.05 219.28z" fill="none" stroke="#ff00ff" stroke-width="0.9"/><g clip-path="url(#c)">
</g>
<text x="55.4" y="33.58" text-anchor="end" font-size="15">10</text>
<path d="M56.1 24.68H63.3" stroke="#000" stroke-width="0.7"/>
<text x="64.3" y="27.58" font-size="10.5" letter-spacing="0">1</text>
<text x="55.4" y="83.94" text-anchor="end" font-size="15">10</text>
<path d="M56.1 75.04H63.3" stroke="#000" stroke-width="0.7"/>
<text x="64.3" y="77.94" font-size="10.5" letter-spacing="0">3</text>
<text x="55.4" y="134.29" text-anchor="end" font-size="15">10</text>
<path d="M56.1 125.39H63.3" stroke="#000" stroke-width="0.7"/>
<text x="64.3" y="128.29" font-size="10.5" letter-spacing="0">5</text>
<text x="55.4" y="184.65" text-anchor="end" font-size="15">10</text>
<path d="M56.1 175.75H63.3" stroke="#000" stroke-width="0.7"/>
<text x="64.3" y="178.65" font-size="10.5" letter-spacing="0">7</text>
<text x="55.4" y="235.01" text-anchor="end" font-size="15">10</text>
<path d="M56.1 226.11H63.3" stroke="#000" stroke-width="0.7"/>
<text x="64.3" y="229.01" font-size="10.5" letter-spacing="0">9</text>
<text x="49.4" y="285.36" text-anchor="end" font-size="15">10</text>
<path d="M50.1 276.46H57.3" stroke="#000" stroke-width="0.7"/>
<text x="58.3" y="279.36" font-size="10.5" letter-spacing="1.5">11</text>
<text x="49.4" y="335.72" text-anchor="end" font-size="15">10</text>
<path d="M50.1 326.82H57.3" stroke="#000" stroke-width="0.7"/>
<text x="58.3" y="329.72" font-size="10.5" letter-spacing="1.5">13</text>
<text x="76.80" y="370" text-anchor="middle" font-size="15">0</text>
<text x="140.10" y="370" text-anchor="middle" font-size="15">1</text>
<text x="203.40" y="370" text-anchor="middle" font-size="15">2</text>
<text x="266.70" y="370" text-anchor="middle" font-size="15">3</text>
<text x="330.00" y="370" text-anchor="middle" font-size="15">4</text>
<text x="393.30" y="370" text-anchor="middle" font-size="15">5</text>
<text x="235.6" y="390.6" text-anchor="middle" font-size="17" font-style="italic">t</text>
<g transform="translate(19 212) rotate(-90)">
<path d="M1.5 -12.8V3.3M58.5 -12.8V3.3" stroke="#000" stroke-width="0.8" fill="none"/>
<text x="4.2" y="0" font-size="18.5" font-style="italic">C</text>
<text x="17.4" y="0" font-size="18.5">(</text>
<text transform="translate(23.2 0) scale(1.2 1)" font-size="19" font-style="italic">t</text>
<text x="29.6" y="0" font-size="16">;</text>
<text x="38.6" y="0" font-size="18.5" font-style="italic">L</text>
<text x="49.8" y="0" font-size="18.5">)</text>
<text x="61.2" y="-6.9" font-size="10.5">2</text>
</g>
</svg></body></html>
